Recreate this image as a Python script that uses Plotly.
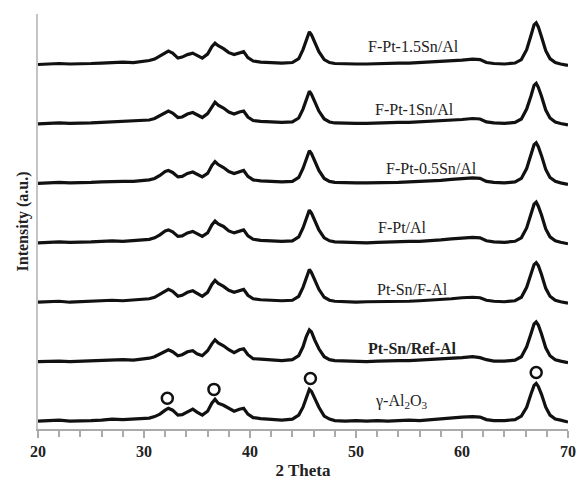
import plotly.graph_objects as go

# 2-theta sampling positions (degrees)
two_theta = [20, 21, 22, 23, 24, 25, 26, 27, 28, 29, 30, 30.5, 31, 31.5, 32, 32.3, 32.7,
             33.2, 33.6, 34.1, 34.6, 35.0, 35.5, 36.0, 36.4, 36.7, 37.0, 37.5, 38.0, 38.5,
             39.0, 39.4, 39.8, 40.3, 41, 42, 43, 44, 44.6, 45.0, 45.3, 45.6, 45.8, 46.1,
             46.5, 47.0, 47.5, 48, 49, 50, 51, 52, 53, 54, 55, 56, 57, 58, 59, 60, 61,
             61.7, 62.3, 63, 64, 65, 65.6, 66.1, 66.5, 66.8, 67.0, 67.2, 67.5, 67.9, 68.3,
             68.8, 69.3, 70]

# intensities (a.u.), bottom to top
i_al2o3 = [1, 1.5, 2, 1, 1, 1.5, 2, 3, 2.5, 3, 3.5, 4, 5.5, 8, 12, 14, 12,
           7, 7.5, 10.5, 13, 10, 7, 11, 19, 23, 19, 17, 14, 11,
           13, 14, 8, 4.5, 3.5, 3, 2, 3, 7, 15, 25, 33, 31, 24,
           15, 6, 3, 1.5, 1, 1.5, 1, 1.5, 1, 1.5, 2, 1.5, 2.5, 3, 4, 5, 5.5,
           5, 2.5, 1.5, 1.5, 2.5, 6, 15, 28, 37, 39, 36, 28, 15, 7,
           3, 2, 0]
i_ptsn_ref = [1, 1.5, 1.5, 1, 1.5, 2, 2, 2.5, 3, 2.5, 3.5, 4.5, 6, 9, 12, 13, 11,
              7, 8, 11, 12, 9, 7, 12, 19, 23, 20, 17, 13, 10,
              13, 14, 8, 4, 3.5, 2.5, 2, 3, 7, 16, 26, 33, 31, 23,
              14, 6, 3, 2, 1.5, 1.5, 1, 1.5, 2, 2, 2, 2.5, 3, 3.5, 4, 5, 6,
              5, 3, 1.5, 1.5, 2.5, 6, 16, 29, 39, 41, 38, 29, 15, 7,
              3, 1.5, 0]
i_ptsn_f = [1, 1.5, 2, 1, 1.5, 1.5, 2, 3, 2.5, 3, 4, 4.5, 6, 9, 12.5, 14, 12,
            7, 8, 11, 12.5, 10, 7, 11, 19, 23, 20, 17, 13, 11,
            13, 14, 8, 4.5, 3.5, 3, 2.5, 3, 7, 16, 26, 34, 31, 23,
            14, 6, 3, 2, 1.5, 1, 1.5, 1.5, 1.5, 2, 2, 2.5, 3, 3.5, 4.5, 5.5, 6,
            5.5, 3, 2, 1.5, 2.5, 6, 16, 29, 39, 41, 38, 29, 15, 7,
            3, 1.5, 0]
i_fpt = [1, 1.5, 2, 1.5, 1.5, 2, 2.5, 3, 2.5, 3, 3.5, 4.5, 6, 9, 13, 14, 12,
         7.5, 8, 11, 12.5, 10, 7.5, 11, 19, 23, 20, 17.5, 13, 11,
         13, 14, 8, 4.5, 3.5, 3, 2.5, 3, 7, 16, 26, 34, 31, 23,
         14, 6, 3, 2, 1.5, 1.5, 1, 1.5, 2, 2, 2.5, 2.5, 3, 4, 5, 5.5, 6.5,
         6, 3, 2, 1.5, 2.5, 6, 16, 29, 40, 42, 38, 29, 15, 7,
         3, 1.5, 0]
i_fpt05 = [1, 1.5, 2, 1.5, 1.5, 2, 2.5, 3, 3, 3, 4, 4.5, 6, 9, 13, 14, 12,
           7.5, 8, 11, 12.5, 10, 7.5, 11, 19, 23, 20, 17, 13, 11,
           13, 14, 8, 4.5, 3.5, 3, 2.5, 3, 7, 16, 26, 34, 31, 23,
           14, 6, 3, 2, 1.5, 1.5, 1.5, 1.5, 2, 2, 2.5, 3, 3, 4, 5, 5.5, 6.5,
           6, 3, 2, 1.5, 2.5, 6, 16, 29, 40, 42, 38, 29, 15, 7,
           3, 1.5, 0]
i_fpt1 = [1, 1.5, 2, 1.5, 1.5, 2, 2.5, 3, 3, 3.5, 4, 5, 6.5, 9.5, 13, 14, 12,
          7.5, 8, 11, 12.5, 10, 7.5, 11.5, 19, 23, 20, 17, 13, 11,
          13, 14, 8, 4.5, 3.5, 3, 2.5, 3, 7, 16, 26, 34, 31, 23,
          14, 6, 3, 2, 1.5, 1.5, 1.5, 2, 2, 2.5, 2.5, 3, 3.5, 4, 5, 5.5, 6.5,
          6, 3, 2, 1.5, 2.5, 6, 16, 29, 40, 42, 38, 29, 15, 7,
          3, 1.5, 0]
i_fpt15 = [1, 1.5, 2, 1.5, 1.5, 2, 2.5, 3, 3.5, 3, 4, 5, 6.5, 9.5, 13, 14.5, 12.5,
           7.5, 8.5, 11, 12.5, 10, 7.5, 11.5, 19, 22.5, 20, 17, 13, 11,
           13, 14, 8, 4.5, 3.5, 3, 2.5, 3, 7, 16, 26, 34, 31, 23,
           14, 6, 3, 2, 1.5, 1.5, 1.5, 2, 2, 2.5, 2.5, 3, 3.5, 4, 5, 5.5, 6.5,
           6, 3, 2, 1.5, 2.5, 6, 16, 30, 41, 43, 39, 29, 15, 7,
           3, 1.5, 0]

series = [i_al2o3, i_ptsn_ref, i_ptsn_f, i_fpt, i_fpt05, i_fpt1, i_fpt15]
labels = ["γ-Al<sub>2</sub>O<sub>3</sub>", "<b>Pt-Sn/Ref-Al</b>", "Pt-Sn/F-Al", "F-Pt/Al",
          "F-Pt-0.5Sn/Al", "F-Pt-1Sn/Al", "F-Pt-1.5Sn/Al"]
label_x = [54.3, 55.3, 55.3, 54.4, 57.1, 55.5, 55.4]
offsets = [7, 67, 127, 187, 247, 307, 367]
label_dy = [21, 14, 14, 16, 16, 16, 19]

tick_vals = [20, 30, 40, 50, 60, 70]

# gamma-Al2O3 reflection markers
circ_x = [32.2, 36.6, 45.7, 67.0]
circ_y = [31, 40, 51, 57]

fig = go.Figure()
for s, off in zip(series, offsets):
    fig.add_trace(go.Scatter(x=two_theta, y=[v + off for v in s], mode="lines",
                             line=dict(color="#111", width=3.2), showlegend=False,
                             hoverinfo="skip"))
fig.add_trace(go.Scatter(x=circ_x, y=circ_y, mode="markers", showlegend=False,
                         marker=dict(symbol="circle-open", size=11, color="#111",
                                     line=dict(width=2.5, color="#111"))))

FONT = "Liberation Serif"
for t, lx, off, dy in zip(labels, label_x, offsets, label_dy):
    fig.add_annotation(x=lx, y=off + dy, text=t, showarrow=False,
                       font=dict(family=FONT, size=16, color="#222"))

fig.update_layout(
    width=586, height=487,
    margin=dict(l=38, r=10, t=14, b=54),
    plot_bgcolor="white", paper_bgcolor="white",
    font=dict(family=FONT, color="#222"),
    xaxis=dict(range=[20, 70], tickvals=tick_vals,
               ticks="outside", ticklen=7, tickcolor="#aaa", tickwidth=1.5,
               minor=dict(dtick=2, ticks="outside", ticklen=6, tickcolor="#aaa", tickwidth=1.5),
               showline=True, linecolor="#aaa", linewidth=1.5, showgrid=False, zeroline=False,
               tickfont=dict(family=FONT, size=16, color="#222", weight="bold"),
               title=dict(text="<b>2 Theta</b>", font=dict(family=FONT, size=17, color="#222"),
                          standoff=5)),
    yaxis=dict(range=[0, 419], showticklabels=False, ticks="", showline=True,
               linecolor="#c4c4c4", linewidth=1.5, showgrid=False, zeroline=False,
               title=dict(text="<b>Intensity (a.u.)</b>", font=dict(family=FONT, size=16, color="#222"),
                          standoff=4)),
)

fig.write_html("out.html")
